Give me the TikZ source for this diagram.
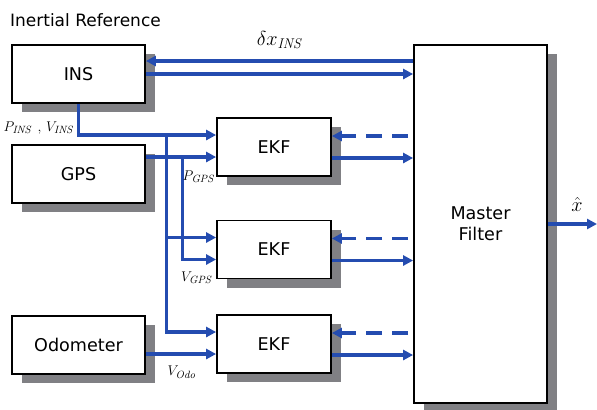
\documentclass[tikz,border=0pt]{standalone}
\usepackage[no-math]{fontspec}
\setsansfont{DejaVu Sans}
\usetikzlibrary{arrows.meta,calc,shadows}

\begin{document}
\begin{tikzpicture}[
    x=0.03cm,
    y=-0.03cm,
    font=\sffamily\fontsize{15}{18}\selectfont,
    >={Triangle[length=3mm,width=3mm]},
    block/.style={
        draw=black,
        fill=white,
        line width=1.5pt,
        align=center,
        inner sep=0pt,
        drop shadow={shadow xshift=0.3cm, shadow yshift=-0.27cm, fill=shadowgrey, opacity=1}
    },
    sensor/.style={block, minimum width=3.99cm, minimum height=1.74cm},
    filterbox/.style={block, minimum width=3.42cm, minimum height=1.74cm},
    flow/.style={draw=flowblue, line width=2.7pt, ->},
    feedback/.style={flow, dash pattern=on 4.8mm off 3mm, dash phase=6.3mm},
    signal/.style={font=\fontsize{13}{15}\selectfont},
    bigsignal/.style={font=\fontsize{17}{20}\selectfont}
]

\definecolor{flowblue}{RGB}{36,76,176}
\definecolor{shadowgrey}{RGB}{128,128,132}

\useasboundingbox (0,0) rectangle (597,409);

% Sensor blocks on the left.
\node[anchor=west, font=\sffamily\fontsize{14.5}{17}\selectfont] (title) at (6,20) {Inertial Reference};
\node[sensor] (ins) at (78.5,74) {INS};
\node[sensor] (gps) at (78.5,174) {GPS};
\node[sensor] (odo) at (78.5,345) {Odometer};

% Local filters and the master filter.
\node[filterbox] (ekf1) at (274,147) {EKF};
\node[filterbox] (ekf2) at (274,249.5) {EKF};
\node[filterbox] (ekf3) at (274,344) {EKF};
\node[block, minimum width=3.99cm, minimum height=10.74cm] (master) at (480.5,224) {Master\\Filter};

% Input points on the EKF blocks.
\foreach \k in {1,2,3} {
    \coordinate (in\k a) at ($(ekf\k.west)+(0,-12)$);
    \coordinate (in\k b) at ($(ekf\k.west)+(0,10)$);
    \coordinate (fb\k) at ($(ekf\k.east)+(0,-11)$);
    \coordinate (out\k) at ($(ekf\k.east)+(0,11)$);
}
\coordinate (tapins) at ($(ekf1.west)+(-50,-12)$);
\coordinate (tapgps) at ($(ekf1.west)+(-34,10)$);

% INS correction loop.
\coordinate (insback) at ($(ins.east)+(0,-13)$);
\draw[flow] (insback -| master.west) -- (insback);
\draw[flow] (ins.east) -- (ins.east -| master.west);
\node[bigsignal] (dxins) at (280,40) {$\delta x_{\mathit{INS}}$};

% Measurements to the EKFs.
\draw[flow] (ins.south) |- (in1a);
\draw[flow] (tapins) |- (in3a);
\draw[flow] (tapins |- in2a) -- (in2a);
\draw[flow] (gps.east |- in1b) -- (in1b);
\draw[flow] (tapgps) |- (in2b);
\draw[flow] (odo.east |- in3b) -- (in3b);

\node[signal] (pvins) at (39,128) {$P_{\mathit{INS}}\ ,\,V_{\mathit{INS}}$};
\node[signal] (pgps) at (199,177) {$P_{\mathit{GPS}}$};
\node[signal] (vgps) at (197,278) {$V_{\mathit{GPS}}$};
\node[signal] (vodo) at (182,372) {$V_{\mathit{Odo}}$};

% EKF outputs and master feedback.
\foreach \k in {1,2,3} {
    \draw[feedback] (fb\k -| master.west) -- (fb\k);
    \draw[flow] (out\k) -- (out\k -| master.west);
}

% Fused estimate.
\coordinate (xhatend) at (597,224);
\draw[flow] (master.east) -- (xhatend);
\node[bigsignal] (xhat) at (577,204) {$\hat{x}$};

\end{tikzpicture}
\end{document}
